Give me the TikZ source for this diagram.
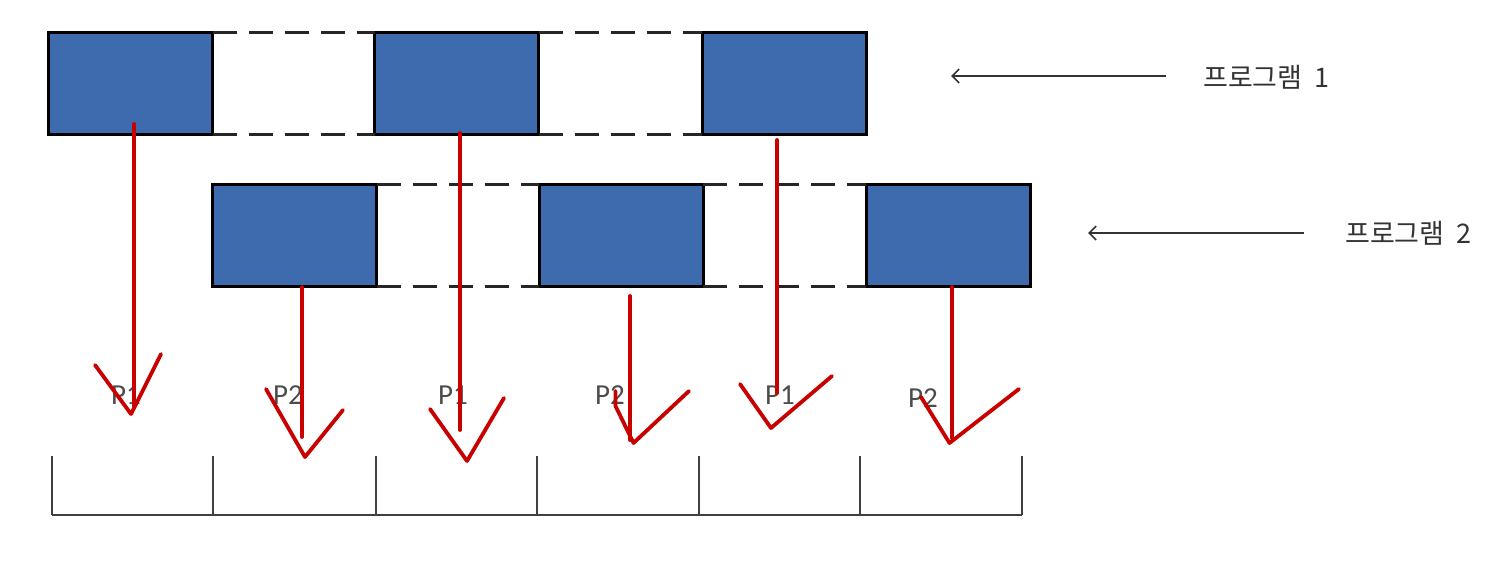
\documentclass[tikz,border=0pt]{standalone}
\usepackage{fontspec}
\newfontfamily\krfont{Noto Sans CJK KR}
\newfontfamily\pfont{Carlito}
\usetikzlibrary{arrows.meta}
\definecolor{boxblue}{RGB}{62,106,174}
\definecolor{redline}{RGB}{200,0,0}
\definecolor{tickgray}{RGB}{64,64,64}
\begin{document}
\begin{tikzpicture}[x=1pt,y=-1pt,
  blk/.style={draw=black, line width=3pt, fill=boxblue, minimum width=164pt, minimum height=102pt, inner sep=0pt, outer sep=0pt},
  gapline/.style={draw=black!85, line width=3pt, dash pattern=on 24pt off 12pt},
  redarrow/.style={draw=redline, line width=3.8pt, line cap=round, line join=round},
  plabel/.style={font=\pfont\fontsize{29}{29}\selectfont, text=black!70, inner sep=0pt},
  klabel/.style={font=\krfont\fontsize{27}{27}\selectfont, text=black!80, anchor=west, inner sep=0pt},
  pointer/.style={draw=black!80, line width=1.6pt, -{Straight Barb[length=7pt,width=14pt]}},
  slot/.style={draw=tickgray, line width=2pt}
]
\useasboundingbox (0,0) rectangle (1489,561);

% program 1 row
\node[blk] (a1) at (130.5,83.5) {};
\node[blk] (a2) at (456.5,83.5) {};
\node[blk] (a3) at (784,83.5) {};
% program 2 row
\node[blk] (b1) at (294.5,236) {};
\node[blk] (b2) at (621,236) {};
\node[blk] (b3) at (948,236) {};

% dashed idle gaps
\draw[gapline] (a1.north east) -- (a2.north west);
\draw[gapline] (a1.south east) -- (a2.south west);
\draw[gapline] (a2.north east) -- (a3.north west);
\draw[gapline] (a2.south east) -- (a3.south west);
\draw[gapline] (b1.north east) -- (b2.north west);
\draw[gapline] (b1.south east) -- (b2.south west);
\draw[gapline] (b2.north east) -- (b3.north west);
\draw[gapline] (b2.south east) -- (b3.south west);

% labels on the right
\node[klabel] (k1) at (1203,77) {프로그램\hspace{12pt}1};
\node[klabel] (k2) at (1345,233) {프로그램\hspace{12pt}2};
\coordinate (k1s) at (1166,76);
\coordinate (k1e) at (951,76);
\coordinate (k2s) at (1304,233);
\coordinate (k2e) at (1088,233);
\draw[pointer] (k1s) -- (k1e);
\draw[pointer] (k2s) -- (k2e);

% time slots
\draw[slot] (52,515) -- (1021.5,515);
\foreach \x in {52,213,376,537,699,860,1021.5}
  \draw[slot] (\x,456) -- (\x,515);

% slot labels
\node[plabel] (p1) at (126,395) {P1};
\node[plabel] (p2) at (288,395) {P2};
\node[plabel] (p3) at (453,395) {P1};
\node[plabel] (p4) at (610,395) {P2};
\node[plabel] (p5) at (780,395) {P1};
\node[plabel] (p6) at (923,398) {P2};

% red hand-drawn arrows
\coordinate (s1) at (134,124);  \coordinate (e1) at (134,406);
\coordinate (s2) at (302,287);  \coordinate (e2) at (302,437);
\coordinate (s3) at (460,133);  \coordinate (e3) at (460,430);
\coordinate (s4) at (630,296);  \coordinate (e4) at (630,440);
\coordinate (s5) at (777,140);  \coordinate (e5) at (777,393);
\coordinate (s6) at (952,287);  \coordinate (e6) at (952,438);
\draw[redarrow] (s1) -- (e1);
\draw[redarrow] (s2) -- (e2);
\draw[redarrow] (s3) -- (e3);
\draw[redarrow] (s4) -- (e4);
\draw[redarrow] (s5) -- (e5);
\draw[redarrow] (s6) -- (e6);
\draw[redarrow] (95,365) -- (131,414) -- (161,354);
\draw[redarrow] (266,389) -- (305,457) -- (343,410);
\draw[redarrow] (430,409) -- (467,461) -- (504,398);
\draw[redarrow] (615.5,391) -- (615.5,406) -- (633.5,443) -- (689,391);
\draw[redarrow] (740,384) -- (771,428) -- (832,376);
\draw[redarrow] (921,397) -- (949.5,443) -- (1019,389);
\end{tikzpicture}
\end{document}
